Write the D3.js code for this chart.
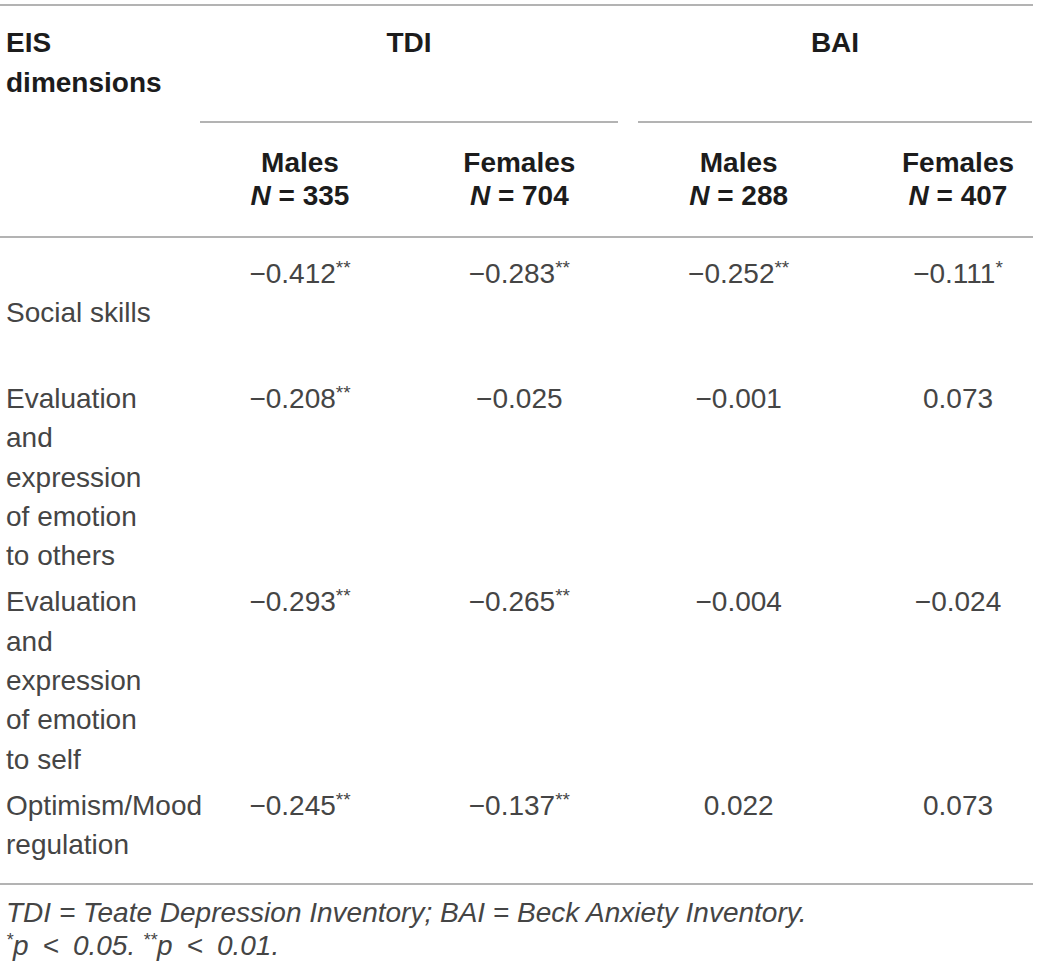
<!DOCTYPE html>
<html>
<head>
<meta charset="utf-8">
<script src="https://cdn.jsdelivr.net/npm/d3@7"></script>
<style>
  body { margin: 0; background: #fff; }
  svg text { font-family: "Liberation Sans", Arial, sans-serif; }
</style>
</head>
<body>
<svg id="svg" width="1039" height="970"></svg>
<script>
// table content
const groups = ["TDI", "BAI"];
const columns = ["TDI Males", "TDI Females", "BAI Males", "BAI Females"];
const sexes = ["Males", "Females", "Males", "Females"];
const sampleN = [335, 704, 288, 407];

const dimLabels = [
  ["", "Social skills", ""],
  ["Evaluation", "and", "expression", "of emotion", "to others"],
  ["Evaluation", "and", "expression", "of emotion", "to self"],
  ["Optimism/Mood", "regulation"]
];
// correlation values per row, one per column
const values = [
  [-0.412, -0.283, -0.252, -0.111],
  [-0.208, -0.025, -0.001, 0.073],
  [-0.293, -0.265, -0.004, -0.024],
  [-0.245, -0.137, 0.022, 0.073]
];
// significance stars, same shape as values
const stars = [
  ["**", "**", "**", "*"],
  ["**", "", "", ""],
  ["**", "**", "", ""],
  ["**", "**", "", ""]
];
const notes = [
  "TDI = Teate Depression Inventory; BAI = Beck Anxiety Inventory.",
  "*p\u2002<\u20020.05. **p\u2002<\u20020.01."
];

const svg = d3.select("#svg");
const fs = 28;          // body font size
const lineH = 39.3;     // line spacing of body rows
const rowGap = 7;       // extra space between rows
const ruleColor = "#9a9a9a";
const bodyColor = "#454545";
const headColor = "#1c1c1c";

// column centres
const x = d3.scalePoint().domain(columns).range([300, 958]);
// rules under the group headers
const groupSpan = { TDI: [200, 618], BAI: [638, 1032] };

function rule(y, x0, x1) {
  svg.append("line")
     .attr("x1", x0).attr("x2", x1)
     .attr("y1", y).attr("y2", y)
     .attr("stroke", ruleColor)
     .attr("stroke-width", 1.6);
}

// --- header ---
rule(5, 0, 1033);

const head = svg.append("g")
                .style("font-weight", "bold")
                .style("font-size", fs + "px")
                .attr("fill", headColor);

head.append("text").attr("x", 6).attr("y", 52).text("EIS");
head.append("text").attr("x", 6).attr("y", 92).text("dimensions");

groups.forEach(g => {
  const [a, b] = groupSpan[g];
  head.append("text")
      .attr("x", (a + b) / 2).attr("y", 52)
      .attr("text-anchor", "middle")
      .text(g);
  rule(122, a, b);
});

columns.forEach((c, i) => {
  head.append("text")
      .attr("x", x(c)).attr("y", 172)
      .attr("text-anchor", "middle")
      .text(sexes[i]);
  const t = head.append("text")
      .attr("x", x(c)).attr("y", 205)
      .attr("text-anchor", "middle");
  t.append("tspan").style("font-style", "italic").text("N");
  t.append("tspan").text(" = " + sampleN[i]);
});

rule(237, 0, 1033);

// --- body ---
const fmt = v => (v < 0 ? "\u2212" : "") + d3.format(".3f")(Math.abs(v));
const body = svg.append("g")
                .style("font-size", fs + "px")
                .attr("fill", bodyColor);

let base = 283;
dimLabels.forEach((lines, r) => {
  const ly = d3.scaleLinear().domain([0, 1]).range([base, base + lineH]);

  lines.forEach((s, k) => {
    if (s) body.append("text").attr("x", 6).attr("y", ly(k)).text(s);
  });

  columns.forEach((c, j) => {
    const t = body.append("text")
                  .attr("x", x(c)).attr("y", ly(0))
                  .attr("text-anchor", "middle");
    t.append("tspan").text(fmt(values[r][j]));
    if (stars[r][j]) {
      t.append("tspan")
       .attr("dy", -9)
       .style("font-size", "19px")
       .text(stars[r][j]);
    }
  });

  base = ly(lines.length) + rowGap;
});

rule(884, 0, 1033);

// --- footnote ---
const foot = svg.append("g")
                .style("font-size", "28px")
                .style("font-style", "italic")
                .attr("fill", bodyColor);

foot.append("text").attr("x", 6).attr("y", 922).text(notes[0]);

const n2 = foot.append("text").attr("x", 6).attr("y", 955);
let raised = false;
notes[1].split(/(\*+)/).forEach(part => {
  if (!part) return;
  if (part[0] === "*") {
    n2.append("tspan").attr("dy", -9).style("font-size", "18px").text(part);
    raised = true;
  } else {
    n2.append("tspan").attr("dy", raised ? 9 : 0).text(part);
    raised = false;
  }
});
</script>
</body>
</html>
